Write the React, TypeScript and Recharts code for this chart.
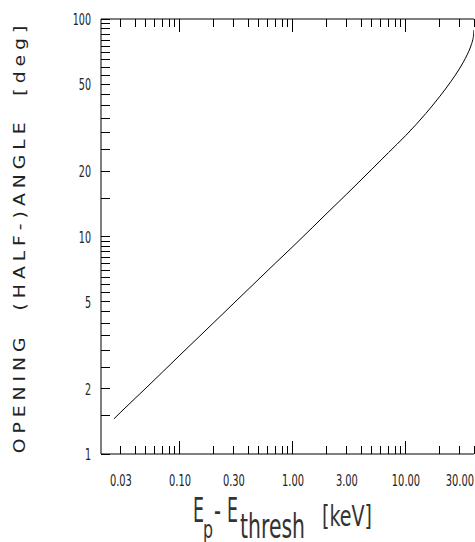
import { Label, Line, LineChart, ReferenceLine, XAxis, YAxis } from "recharts";

// E_p - E_thresh [keV] and the opening half-angle [deg]
const energyKeV = [
  0.026, 0.03, 0.04, 0.05, 0.07, 0.1, 0.15, 0.2, 0.3, 0.5, 0.7, 1, 1.5, 2, 3, 5, 7, 10, 15, 20,
  25, 30, 32, 35, 37, 38, 39, 39.5, 40,
];
const openingAngleDeg = [
  1.45, 1.56, 1.8, 2.01, 2.38, 2.85, 3.49, 4.03, 4.94, 6.38, 7.55, 9.0, 11.05, 12.8, 15.7, 20.4,
  24.3, 29.2, 36.8, 44.2, 51.6, 59.5, 63.0, 68.9, 73.6, 76.6, 80.2, 83.0, 89.0,
];

const xTicks = [
  0.03, 0.04, 0.05, 0.06, 0.07, 0.08, 0.09, 0.1, 0.2, 0.3, 0.4, 0.5, 0.6, 0.7, 0.8, 0.9, 1, 2, 3,
  4, 5, 6, 7, 8, 9, 10, 20, 30, 40,
];
const xLabelTicks = [0.03, 0.1, 0.3, 1, 3, 10, 30];
const xMajorTicks = [0.1, 1, 10];

const yTicks = [
  1, 1.5, 2, 2.5, 3, 3.5, 4, 4.5, 5, 5.5, 6, 6.5, 7, 7.5, 8, 8.5, 9, 9.5, 10, 15, 20, 25, 30, 35,
  40, 45, 50, 55, 60, 65, 70, 75, 80, 85, 90, 95, 100,
];
const yLabelTicks = [1, 2, 5, 10, 20, 50, 100];

const X_MIN = 0.02;
const X_MAX = 40;
const X_TICK_END = 0.024; // inner end of the left-axis tick marks

const data = energyKeV.map((e, i) => ({ e, theta: openingAngleDeg[i] }));

const FONT = "DejaVu Sans";
const PLOT_TOP = 19;
const PLOT_LEFT = 101;

// ticks point inward, on the bottom axis and mirrored on the top frame
function BottomTick(props: any) {
  const { x, y, payload } = props;
  const v = payload.value as number;
  const len = xMajorTicks.includes(v) ? 13 : 8;
  return (
    <g shapeRendering="crispEdges">
      <line x1={x} y1={y} x2={x} y2={y - len} stroke="#000" />
      <line x1={x} y1={PLOT_TOP} x2={x} y2={PLOT_TOP + len} stroke="#000" />
      {xLabelTicks.includes(v) && (
        <text
          transform={`translate(${x},${y + 32}) scale(0.66,1)`}
          textAnchor="middle"
          fontSize={15}
          fontFamily={FONT}
          fill="#222"
        >
          {v.toFixed(2)}
        </text>
      )}
    </g>
  );
}

function LeftTick(props: any) {
  const { y, payload } = props;
  const v = Number(payload.value);
  if (!yLabelTicks.includes(v)) return <g />;
  return (
    <text
      transform={`translate(${PLOT_LEFT - 10},${Number(y) + 6}) scale(0.6,1)`}
      textAnchor="end"
      fontSize={16}
      fontFamily={FONT}
      fill="#222"
    >
      {v}
    </text>
  );
}

function XTitle(props: any) {
  const { x, y } = props.viewBox;
  const seg = (t: string, dx: number, w: number, dy: number, fs: number) => (
    <text
      x={x + dx}
      y={y + dy}
      fontSize={fs}
      fontFamily={FONT}
      textLength={w}
      lengthAdjust="spacingAndGlyphs"
      fill="#333"
    >
      {t}
    </text>
  );
  return (
    <g>
      {seg("E", 92, 11, 68, 34)}
      {seg("p", 102, 10, 84, 24)}
      {seg("-", 113, 7, 68, 34)}
      {seg("E", 126, 11, 68, 34)}
      {seg("thresh", 139, 65, 84, 34)}
      {seg("[keV]", 221, 50, 72, 28)}
    </g>
  );
}

function YTitle(props: any) {
  const { y, height } = props.viewBox;
  return (
    <text
      transform={`translate(25,${y + height / 2 + 3}) rotate(-90) scale(1.25,1)`}
      textAnchor="middle"
      fontSize={15}
      fontFamily={FONT}
      textLength={342}
      lengthAdjust="spacing"
      fill="#222"
      style={{ whiteSpace: "pre" }}
    >
      {"OPENING  (HALF-)ANGLE  [deg]"}
    </text>
  );
}

export default function App() {
  return (
    <div style={{ position: "absolute", left: 0, top: 0, background: "#fff" }}>
      <LineChart
        width={475}
        height={542}
        data={data}
        margin={{ top: PLOT_TOP, right: 1, bottom: 0, left: 0 }}
      >
        <XAxis
          dataKey="e"
          type="number"
          scale="log"
          domain={[X_MIN, X_MAX]}
          allowDataOverflow
          ticks={xTicks}
          interval={0}
          height={88}
          tickSize={0}
          tickMargin={0}
          tickLine={false}
          axisLine={{ stroke: "#000" }}
          tick={<BottomTick />}
        >
          <Label content={<XTitle />} />
        </XAxis>
        <YAxis
          type="number"
          scale="log"
          domain={[1, 100]}
          allowDataOverflow
          ticks={yTicks}
          interval={0}
          width={PLOT_LEFT}
          tickSize={0}
          tickMargin={0}
          tickLine={false}
          axisLine={{ stroke: "#000" }}
          tick={<LeftTick />}
        >
          <Label content={<YTitle />} />
        </YAxis>
        <ReferenceLine y={100} stroke="#000" />
        {yTicks.map((v) => (
          <ReferenceLine
            key={`ytick-${v}`}
            segment={[
              { x: X_MIN, y: v },
              { x: X_TICK_END, y: v },
            ]}
            stroke="#000"
            shapeRendering="crispEdges"
          />
        ))}
        <Line
          dataKey="theta"
          type="monotone"
          stroke="#000"
          strokeWidth={1}
          dot={false}
          isAnimationActive={false}
        />
      </LineChart>
    </div>
  );
}
